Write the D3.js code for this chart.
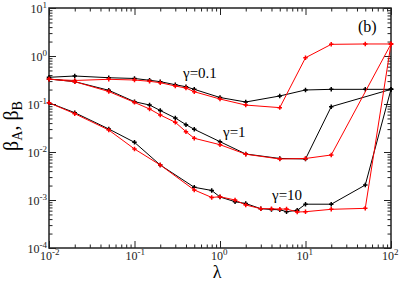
<!DOCTYPE html>
<html>
<head>
<meta charset="utf-8">
<script src="https://cdn.jsdelivr.net/npm/d3@7"></script>
<style>
  body { margin: 0; background: #fff; }
</style>
</head>
<body>
<div id="chart"></div>
<script>
// lambda values for each gamma
var lam01 = [0.01, 0.02, 0.05, 0.1, 0.15, 0.2, 0.3, 0.4, 0.5, 1, 2, 5, 10, 20, 50, 100];
var lam1 = [0.01, 0.02, 0.05, 0.1, 0.15, 0.2, 0.3, 0.4, 0.5, 1, 2, 5, 10, 20, 100];
var lam10 = [0.01, 0.02, 0.05, 0.1, 0.2, 0.5, 0.8, 1, 1.5, 2, 3, 4, 5, 6, 8, 10, 20, 50, 100];

// beta values, black = A, red = B
var g01A = [0.36, 0.383, 0.353, 0.34, 0.312, 0.292, 0.252, 0.229, 0.202, 0.1365, 0.110, 0.147, 0.196, 0.202, 0.202, 0.202];
var g01B = [0.327, 0.309, 0.327, 0.316, 0.297, 0.278, 0.237, 0.215, 0.18, 0.127, 0.095, 0.084, 0.92, 1.75, 1.78, 1.78];
var g1A = [0.332, 0.292, 0.193, 0.1117, 0.0953, 0.0732, 0.0511, 0.0371, 0.0297, 0.0164, 0.00909, 0.00733, 0.00715, 0.088, 0.202];
var g1B = [0.332, 0.292, 0.182, 0.108, 0.0787, 0.059, 0.0416, 0.0265, 0.0193, 0.0142, 0.009, 0.00715, 0.00733, 0.00866, 1.78];
var g10A = [0.106, 0.066, 0.0302, 0.0159, 0.00536, 0.00184, 0.00158, 0.001155, 0.000922, 0.000845, 0.000659, 0.000634, 0.000628, 0.00057, 0.00061, 0.000818, 0.000817, 0.00205, 0.202];
var g10B = [0.106, 0.0628, 0.0287, 0.01155, 0.00536, 0.00162, 0.00113, 0.00117, 0.001, 0.000787, 0.000659, 0.000659, 0.000645, 0.00065, 0.000562, 0.00057, 0.00064, 0.00067, 1.78];

var xMajor = [0.01, 0.1, 1, 10, 100];
var xExp = ["-2", "-1", "0", "1", "2"];
var yMajor = [1e-4, 1e-3, 1e-2, 1e-1, 1, 10];
var yExp = ["-4", "-3", "-2", "-1", "0", "1"];

var serif = "'Liberation Serif', 'DejaVu Serif', 'Times New Roman', serif";

var margin = {top: 8, right: 8, bottom: 35, left: 49},
    width = 399 - margin.left - margin.right,
    height = 283 - margin.top - margin.bottom;

var svg = d3.select("#chart")
  .append("svg")
    .attr("width", 399)
    .attr("height", 283)
    .style("font-family", serif)
  .append("g")
    .attr("transform", "translate(" + margin.left + "," + margin.top + ")");

var x = d3.scaleLog().domain([0.01, 100]).range([0, width]);
var y = d3.scaleLog().domain([1e-4, 10]).range([height, 0]);

// minor ticks 2..9 in every decade
function minors(lo, hi) {
  var out = [];
  for (var e = lo; e < hi; e++) {
    for (var k = 2; k <= 9; k++) out.push(k * Math.pow(10, e));
  }
  return out;
}
var xMinor = minors(-2, 2);
var yMinor = minors(-4, 1);

function addAxis(axisFn, scale, vals, size, tr) {
  var g = svg.append("g")
    .attr("transform", tr)
    .call(axisFn(scale).tickValues(vals).tickSize(size).tickSizeOuter(0).tickFormat(""));
  g.select(".domain").remove();
  g.selectAll("line").attr("stroke", "#222").attr("stroke-width", 1);
}

addAxis(d3.axisBottom, x, xMajor, -7, "translate(0," + height + ")");
addAxis(d3.axisBottom, x, xMinor, -3.5, "translate(0," + height + ")");
addAxis(d3.axisTop, x, xMajor, -7, "translate(0,0)");
addAxis(d3.axisTop, x, xMinor, -3.5, "translate(0,0)");
addAxis(d3.axisLeft, y, yMajor, -7, "translate(0,0)");
addAxis(d3.axisLeft, y, yMinor, -3.5, "translate(0,0)");
addAxis(d3.axisRight, y, yMajor, -7, "translate(" + width + ",0)");
addAxis(d3.axisRight, y, yMinor, -3.5, "translate(" + width + ",0)");

// frame
svg.append("rect")
  .attr("width", width).attr("height", height)
  .attr("fill", "none").attr("stroke", "#222").attr("stroke-width", 1.5);

// tick labels
xMajor.forEach(function(v, i) {
  var t = svg.append("text")
    .attr("x", x(v) - 9).attr("y", height + 12)
    .attr("font-family", serif)
    .attr("font-size", 12).attr("fill", "#222");
  t.append("tspan").text("10");
  t.append("tspan").attr("dy", -5).attr("font-size", 9).text(xExp[i]);
});
yMajor.forEach(function(v, i) {
  var t = svg.append("text")
    .attr("x", -2).attr("y", y(v) + 5)
    .attr("text-anchor", "end")
    .attr("font-family", serif)
    .attr("font-size", 12).attr("fill", "#222");
  t.append("tspan").text("10");
  t.append("tspan").attr("dy", -5).attr("font-size", 9).text(yExp[i]);
});

// axis titles
svg.append("text")
  .attr("x", x(1) - 3).attr("y", height + 30)
  .attr("text-anchor", "middle")
  .attr("font-family", serif)
  .attr("font-size", 18)
  .text("λ");

var yt = svg.append("text")
  .attr("transform", "translate(-31," + (height / 2 - 2) + ") rotate(-90)")
  .attr("text-anchor", "middle")
  .attr("font-family", serif)
  .attr("font-size", 20);
yt.append("tspan").text("β");
yt.append("tspan").attr("dy", 4).attr("font-size", 14).text("A");
yt.append("tspan").attr("dy", -4).text(", β");
yt.append("tspan").attr("dy", 4).attr("font-size", 14).text("B");

var line = d3.line()
  .x(function(d) { return x(d[0]); })
  .y(function(d) { return y(d[1]); });

var series = [
  {lam: lam01, val: g01A, color: "#000"},
  {lam: lam01, val: g01B, color: "#ff0000"},
  {lam: lam1, val: g1A, color: "#000"},
  {lam: lam1, val: g1B, color: "#ff0000"},
  {lam: lam10, val: g10A, color: "#000"},
  {lam: lam10, val: g10B, color: "#ff0000"}
];

var sym = d3.symbol().type(d3.symbolCross).size(11);

series.forEach(function(s) {
  var pts = s.lam.map(function(l, i) { return [l, s.val[i]]; });
  svg.append("path")
    .datum(pts)
    .attr("fill", "none")
    .attr("stroke", s.color)
    .attr("stroke-width", 1)
    .attr("d", line);
  svg.selectAll(null)
    .data(pts)
    .enter()
    .append("path")
    .attr("d", sym)
    .attr("fill", s.color)
    .attr("transform", function(d) {
      return "translate(" + x(d[0]) + "," + y(d[1]) + ")";
    });
});

// annotations
function note(tx, ty, size, str) {
  svg.append("text").attr("x", tx).attr("y", ty)
    .attr("font-family", serif).attr("font-size", size).text(str);
}
note(134, 70, 15, "γ=0.1");
note(174, 129, 15, "γ=1");
note(223, 192, 15, "γ=10");
note(309, 24, 16, "(b)");
</script>
</body>
</html>
